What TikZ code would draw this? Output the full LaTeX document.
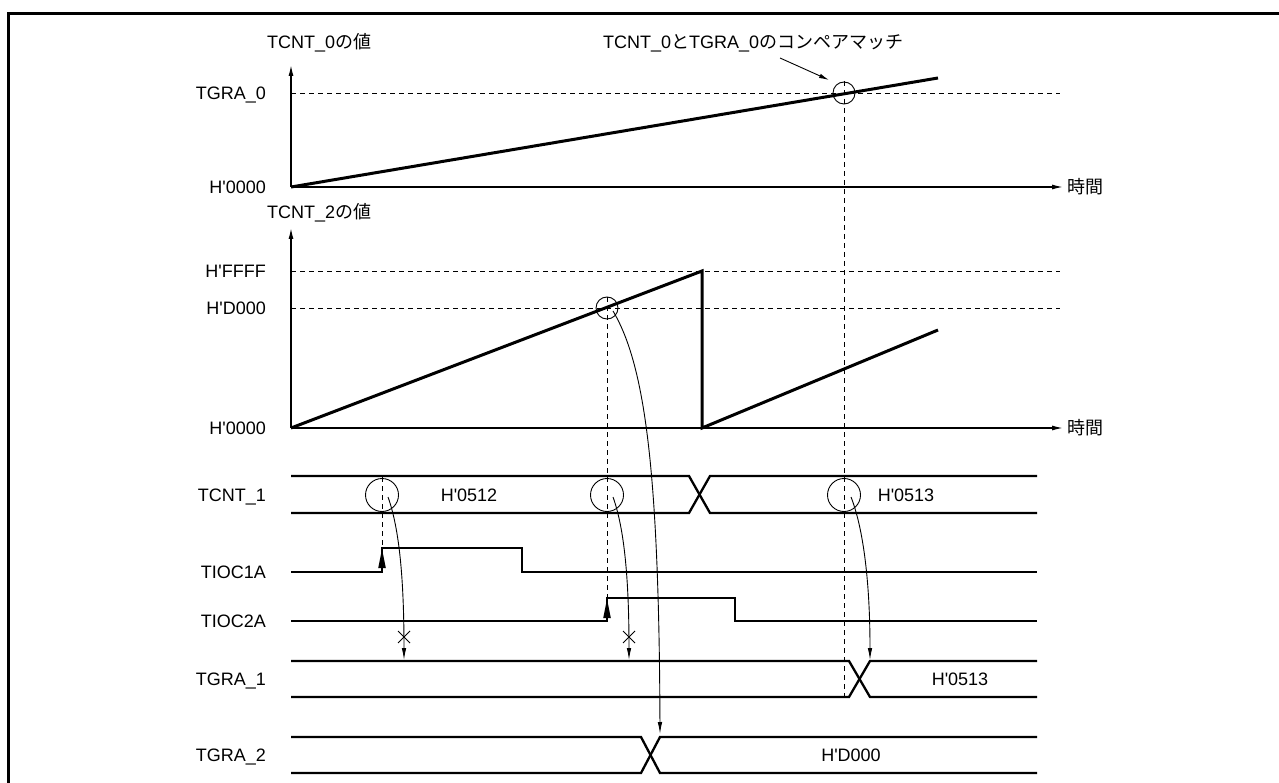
\documentclass[tikz,border=0pt]{standalone}
\usepackage{fontspec}
\setmainfont{Liberation Sans}
\newfontfamily\jp{Noto Sans CJK JP}
\usetikzlibrary{arrows.meta}
\newcommand\hq{\textquotesingle}
\begin{document}
\begin{tikzpicture}[x=1pt,y=-1pt,
  lbl/.style={anchor=base east,inner sep=0pt,font=\fontsize{18}{20}\selectfont},
  txtw/.style={anchor=base west,inner sep=0pt,font=\fontsize{18}{20}\selectfont},
  txtc/.style={anchor=base,inner sep=0pt,font=\fontsize{18}{20}\selectfont},
  sig/.style={line width=2.3pt,line join=miter},
  ramp/.style={line width=3pt,line join=miter},
  axis/.style={line width=1.3pt},
  guide/.style={line width=0.9pt,dash pattern=on 5pt off 4pt},
  thinline/.style={line width=0.9pt},
  axarrow/.style={axis,-{Latex[length=11pt,width=5pt]}},
  curvearrow/.style={thinline,-{Latex[length=12pt,width=4.5pt]}},
]
\useasboundingbox (0,0) rectangle (1279,783);
% frame
\draw[line width=3pt,line join=miter] (1279,14) -- (8,14) -- (8,783);

% ---------- chart 1 ----------
\coordinate (o1) at (291,187);
\coordinate (y1) at (291,65);
\coordinate (t1) at (1063,187);
\draw[axarrow] (o1) -- (y1);
\draw[axarrow] (o1) -- (t1);
\node[txtw] (yl1) at (267,48.5) {TCNT\_0{\jp の値}};
\node[txtw] (tl1) at (1067,193.5) {\jp 時間};
\node[lbl] (l0a) at (266,193.5) {H\hq 0000};
\node[lbl] (lg0) at (266,99.5) {TGRA\_0};
\coordinate (g0a) at (291,93);
\coordinate (g0b) at (1060,93);
\draw[guide] (g0a) -- (g0b);
\coordinate (r1e) at (938,78);
\draw[ramp] (o1) -- (r1e);
\coordinate (cm) at (844,93);
\draw[thinline] (cm) circle[radius=11];
\node[txtw] (cmt) at (603,48.5) {TCNT\_0{\jp と}TGRA\_0{\jp のコンペアマッチ}};
\coordinate (cma) at (780,58);
\coordinate (cmb) at (829,80);
\draw[thinline,-{Latex[length=10pt,width=4.5pt]}] (cma) -- (cmb);
\coordinate (v3a) at (844,81);
\coordinate (v3b) at (844,697);
\draw[guide] (v3a) -- (v3b);

% ---------- chart 2 ----------
\coordinate (o2) at (291,428);
\coordinate (y2) at (291,228);
\coordinate (t2) at (1063,428);
\draw[axarrow] (o2) -- (y2);
\draw[axarrow] (o2) -- (t2);
\node[txtw] (yl2) at (267,218.5) {TCNT\_2{\jp の値}};
\node[txtw] (tl2) at (1067,434.5) {\jp 時間};
\node[lbl] (l0b) at (266,434.5) {H\hq 0000};
\node[lbl] (lff) at (266,277.5) {H\hq FFFF};
\node[lbl] (ld0) at (266,314.5) {H\hq D000};
\draw[guide] (291,271) -- (1060,271);
\draw[guide] (291,308) -- (1060,308);
\coordinate (pk) at (702,271);
\coordinate (pb) at (702,428);
\coordinate (r2e) at (938,330);
\draw[ramp] (o2) -- (pk) -- (pb) -- (r2e);
\coordinate (dm) at (607,308);
\draw[thinline] (dm) circle[radius=11];
\coordinate (v2a) at (607,297);
\coordinate (v2b) at (607,598);
\draw[guide] (v2a) -- (v2b);

% ---------- TCNT_1 ----------
\node[lbl] (ltc1) at (266,501.5) {TCNT\_1};
\draw[sig] (291,476) -- (689,476) -- (710,513) -- (1037,513);
\draw[sig] (291,513) -- (689,513) -- (710,476) -- (1037,476);
\node[txtc] (v512) at (469,501.5) {H\hq 0512};
\node[txtc] (v513a) at (906,501.5) {H\hq 0513};
\coordinate (c1) at (382,495);
\coordinate (c2) at (607,495);
\coordinate (c3) at (844,495);
\draw[thinline] (c1) circle[radius=16.5];
\draw[thinline] (c2) circle[radius=16.5];
\draw[thinline] (c3) circle[radius=16.5];
\coordinate (v1a) at (382,477);
\coordinate (v1b) at (382,548);
\draw[guide] (v1a) -- (v1b);

% ---------- TIOC1A / TIOC2A ----------
\node[lbl] (ltio1) at (266,578.5) {TIOC1A};
\node[lbl] (ltio2) at (266,627.5) {TIOC2A};
\draw[sig] (291,572) -- (382,572) -- (382,548) -- (522,548) -- (522,572) -- (1037,572);
\draw[sig] (291,621) -- (607,621) -- (607,598) -- (735,598) -- (735,621) -- (1037,621);
\fill (382,549) -- (378.2,568) -- (385.8,568) -- cycle;
\fill (607,599) -- (603.2,618) -- (610.8,618) -- cycle;

% ---------- TGRA_1 ----------
\node[lbl] (lgr1) at (266,685.5) {TGRA\_1};
\draw[sig] (291,661) -- (849,661) -- (870,697) -- (1037,697);
\draw[sig] (291,697) -- (849,697) -- (870,661) -- (1037,661);
\node[txtc] (v513b) at (960,685.5) {H\hq 0513};

% ---------- TGRA_2 ----------
\node[lbl] (lgr2) at (266,761.5) {TGRA\_2};
\draw[sig] (291,737) -- (641,737) -- (660,773) -- (1037,773);
\draw[sig] (291,773) -- (641,773) -- (660,737) -- (1037,737);
\node[txtc] (vd0) at (851,761.5) {H\hq D000};

% ---------- curved arrows ----------
\coordinate (a1s) at (388,497);
\coordinate (a1e) at (404,660);
\draw[curvearrow] (a1s) .. controls (398,525) and (404,570) .. (a1e);
\coordinate (a2s) at (613,497);
\coordinate (a2e) at (629,660);
\draw[curvearrow] (a2s) .. controls (623,525) and (629,570) .. (a2e);
\coordinate (a3s) at (851,497);
\coordinate (a3e) at (870,660);
\draw[curvearrow] (a3s) .. controls (862,525) and (870,575) .. (a3e);
\coordinate (a4s) at (613,311);
\coordinate (a4e) at (660,734);
\draw[curvearrow] (a4s) .. controls (645,365) and (659,470) .. (a4e);

% crosses
\draw[thinline] (398,631) -- (410,643) (398,643) -- (410,631);
\draw[thinline] (623,631) -- (635,643) (623,643) -- (635,631);
\end{tikzpicture}
\end{document}
